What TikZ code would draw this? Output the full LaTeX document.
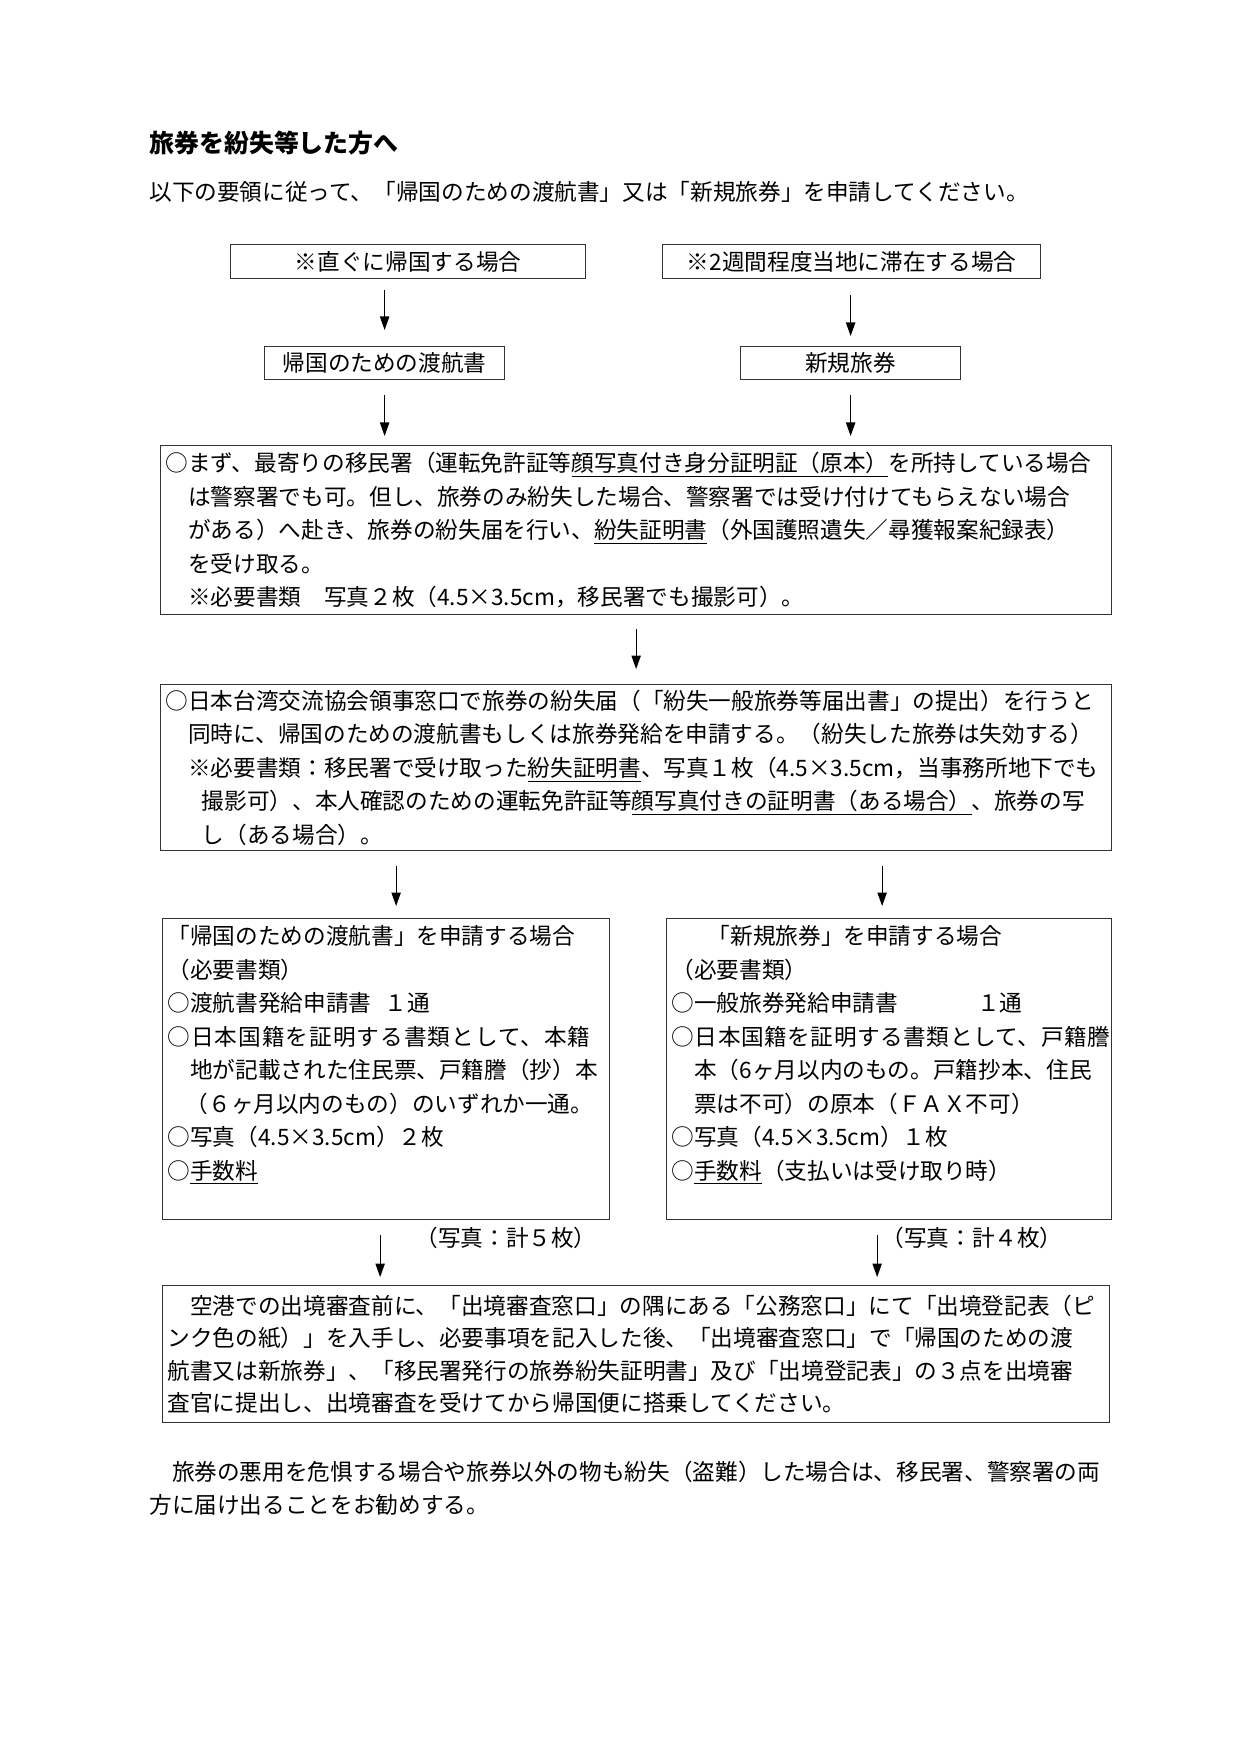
\documentclass[tikz,border=0pt]{standalone}
\usepackage{fontspec}
\setmainfont{Noto Sans CJK JP}
\usetikzlibrary{arrows.meta,calc}
\newdimen\pxu \pxu=0.16922mm
\newcommand\jsize{\fontsize{10.9pt}{16.1pt}\selectfont}
\newcommand\ksize{\fontsize{10.9pt}{15.6pt}\selectfont}
\newcommand\wide[2][4.5]{{\addfontfeature{LetterSpace=#1}#2}}
\tikzset{
  box/.style={draw=black!80, line width=0.6pt, anchor=north west, inner xsep=5\pxu, inner ysep=0pt, align=left, font=\jsize},
  flow/.style={-{Triangle[length=6.5pt,width=4.5pt]}, line width=0.5pt},
  txt/.style={inner sep=0pt, anchor=west, align=left, font=\jsize},
}
\begin{document}
\begin{tikzpicture}[x=0.16922mm, y=-0.16922mm]
\useasboundingbox (0,0) rectangle (1241,1754);
\fill[white] (0,0) rectangle (1241,1754);

\node[txt, font=\fontsize{12pt}{14pt}\selectfont\bfseries] (title) at (149,143) {旅券を紛失等した方へ};
\node[txt] (sub) at (149,192) {以下の要領に従って、「帰国のための渡航書」又は「新規旅券」を申請してください。};

\node[box, align=center, minimum width=355\pxu, minimum height=34\pxu] (b1) at (230,244) {※直ぐに帰国する場合};
\node[box, align=center, minimum width=378\pxu, minimum height=34\pxu] (b2) at (662,244) {※2週間程度当地に滞在する場合};
\node[box, align=center, minimum width=240\pxu, minimum height=33\pxu] (b3) at (264,346) {帰国のための渡航書};
\node[box, align=center, minimum width=220\pxu, minimum height=33\pxu] (b4) at (740,346) {新規旅券};

\node[box, minimum width=951\pxu, minimum height=169\pxu, text width=941\pxu] (b5) at (160,445) {%
○まず、最寄りの移民署（運転免許証等\underline{顔写真付き身分証明証（原本）}を所持している場合\\
\hspace*{1em}は警察署でも可。但し、旅券のみ紛失した場合、警察署では受け付けてもらえない場合\\
\hspace*{1em}がある）へ赴き、旅券の紛失届を行い、\underline{紛失証明書}（外国護照遺失／尋獲報案紀録表）\\
\hspace*{1em}を受け取る。\\
\hspace*{1em}※必要書類　写真２枚（4.5×3.5cm，移民署でも撮影可）。};

\node[box, minimum width=951\pxu, minimum height=166\pxu, text width=941\pxu] (b6) at (160,684) {%
○日本台湾交流協会領事窓口で旅券の紛失届（「紛失一般旅券等届出書」の提出）を行うと\\
\hspace*{1em}同時に、帰国のための渡航書もしくは旅券発給を申請する。（紛失した旅券は失効する）\\
\hspace*{1em}※必要書類：移民署で受け取った\underline{紛失証明書}、写真１枚（4.5×3.5cm，当事務所地下でも\\
\hspace*{1.6em}撮影可）、本人確認のための運転免許証等\underline{顔写真付きの証明書（ある場合）}、旅券の写\\
\hspace*{1.6em}し（ある場合）。};

\node[box, minimum width=447\pxu, minimum height=301\pxu, text width=437\pxu] (b7) at (162,918) {%
「帰国のための渡航書」を申請する場合\\
（必要書類）\\
○渡航書発給申請書\hspace{0.6em}１通\\
\wide{○日本国籍を証明する書類として、本籍}\\
\hspace*{1em}地が記載された住民票、戸籍謄（抄）本\\
\hspace*{0.8em}（６ヶ月以内のもの）のいずれか一通。\\
○写真（4.5×3.5cm）２枚\\
○\underline{手数料}\\
\mbox{}};

\node[box, minimum width=445\pxu, minimum height=301\pxu, text width=435\pxu] (b8) at (666,918) {%
\hspace*{1.6em}「新規旅券」を申請する場合\\
（必要書類）\\
○一般旅券発給申請書\hspace{3.5em}１通\\
\wide[2.5]{○日本国籍を証明する書類として、戸籍謄}\\
\hspace*{1em}本（6ヶ月以内のもの。戸籍抄本、住民\\
\hspace*{1em}票は不可）の原本（ＦＡＸ不可）\\
○写真（4.5×3.5cm）１枚\\
○\underline{手数料}（支払いは受け取り時）\\
\mbox{}};

\node[inner sep=0pt, font=\jsize] (p5) at (506,1238) {（写真：計５枚）};
\node[inner sep=0pt, font=\jsize] (p4) at (972,1238) {（写真：計４枚）};

\node[box, font=\ksize, minimum width=947\pxu, minimum height=137\pxu, text width=937\pxu] (b9) at (162,1285) {%
\hspace*{1em}空港での出境審査前に、「出境審査窓口」の隅にある「公務窓口」にて「出境登記表（ピ\\
ンク色の紙）」を入手し、必要事項を記入した後、「出境審査窓口」で「帰国のための渡\\
航書又は新旅券」、「移民署発行の旅券紛失証明書」及び「出境登記表」の３点を出境審\\
査官に提出し、出境審査を受けてから帰国便に搭乗してください。};

\node[txt, font=\fontsize{10.9pt}{15.8pt}\selectfont] (note) at (149,1488) {%
\hspace*{1em}旅券の悪用を危惧する場合や旅券以外の物も紛失（盗難）した場合は、移民署、警察署の両\\
方に届け出ることをお勧めする。};

% connectors
\draw[flow, shorten <=11\pxu, shorten >=16\pxu] (b3.north |- b1.south) -- (b3.north);
\draw[flow, shorten <=16\pxu, shorten >=10\pxu] (b4.north |- b2.south) -- (b4.north);
\draw[flow, shorten <=15\pxu, shorten >=9\pxu] (b3.south) -- (b3.south |- b5.north);
\draw[flow, shorten <=15\pxu, shorten >=9\pxu] (b4.south) -- (b4.south |- b5.north);
\draw[flow, shorten <=14\pxu, shorten >=15\pxu] (b5.south) -- (b6.north);
\coordinate (f1) at ($(b7.north)+(10,0)$);
\coordinate (g1) at ($(b8.north)+(-7,0)$);
\draw[flow, shorten <=15\pxu, shorten >=12\pxu] (f1 |- b6.south) -- (f1);
\draw[flow, shorten <=15\pxu, shorten >=12\pxu] (g1 |- b6.south) -- (g1);
\coordinate (h1) at ($(b7.south)+(-6,0)$);
\coordinate (i1) at ($(b8.south)+(-12,0)$);
\draw[flow, shorten <=15\pxu, shorten >=8\pxu] (h1) -- (h1 |- b9.north);
\draw[flow, shorten <=15\pxu, shorten >=8\pxu] (i1) -- (i1 |- b9.north);
\end{tikzpicture}
\end{document}
